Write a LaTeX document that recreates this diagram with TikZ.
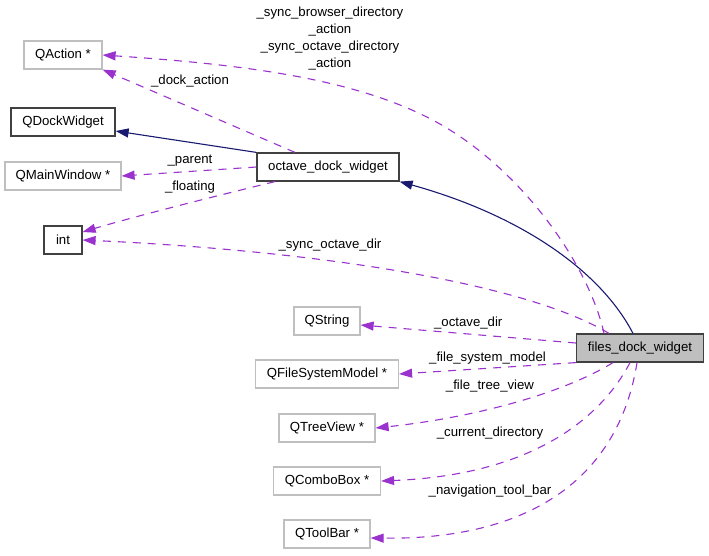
\documentclass[tikz,border=0pt]{standalone}
\usepackage{fontspec}
\setmainfont{Liberation Sans}
\usepackage{tikz}
\usetikzlibrary{arrows.meta,positioning}

\definecolor{dep}{HTML}{9A32CD}
\definecolor{inh}{HTML}{191970}
\definecolor{grayline}{HTML}{BFBFBF}
\definecolor{darkline}{HTML}{404040}

\begin{document}
\begin{tikzpicture}[x=1pt,y=-1pt,
  font=\fontsize{13.2}{15}\selectfont,
  cls/.style={draw=darkline,line width=1.2pt,rectangle,minimum height=28pt,inner sep=0pt},
  ext/.style={draw=grayline,line width=1.2pt,rectangle,minimum height=28pt,inner sep=0pt},
  use/.style={-{Triangle[length=13pt,width=9pt]},draw=dep,fill=none,line width=1.1pt,
    dash pattern=on 8pt off 7pt},
  isa/.style={-{Triangle[length=13pt,width=9pt]},draw=inh,line width=1.1pt},
  lbl/.style={inner sep=0pt,align=center},
]
  \useasboundingbox (0,0) rectangle (709,555);

  % classes on the left
  \node[ext,minimum width=78pt]  (qaction) at (63,55)  {QAction *};
  \node[cls,minimum width=104pt] (qdock)   at (63,122) {QDockWidget};
  \node[ext,minimum width=116pt] (qmain)   at (63,176) {QMainWindow *};
  \node[cls,minimum width=38pt]  (int)     at (63,240) {int};

  % middle column
  \node[cls,minimum width=142pt] (octave)  at (328,167) {octave\_dock\_widget};
  \foreach \name/\txt/\w/\y in {qstring/QString/66/321,qfsm/{QFileSystemModel *}/143/374,
      qtree/{QTreeView *}/96/428,qcombo/{QComboBox *}/107/481,qtool/{QToolBar *}/86/534} {
    \node[ext,minimum width=\w pt] (\name) at (327,\y) {\txt};
  }

  % the documented class
  \node[cls,fill=grayline,minimum width=127pt] (files) at (640,348) {files\_dock\_widget};

  % inheritance
  \draw[isa] (octave.north west) -- ([yshift=-9pt]qdock.east);
  \draw[isa] ([xshift=-7pt]files.north) .. controls (600,270) and (520,215) .. (octave.south east);

  % members of octave_dock_widget
  \draw[use] ([xshift=-33pt]octave.north) -- (qaction.south east);
  \node[lbl] (ldock) at (190,81) {\_dock\_action};
  \draw[use] (octave.west) -- (qmain.east);
  \node[lbl] (lparent) at (190,161) {\_parent};
  \draw[use] ([xshift=-53pt]octave.south) .. controls (220,195) and (140,215) .. ([yshift=8pt]int.east);
  \node[lbl] (lfloat) at (190,187) {\_floating};

  % members of files_dock_widget
  \draw[use] ([xshift=-36pt]files.north) .. controls (590,270) and (530,180) .. (450,130)
    .. controls (370,80) and (250,65) .. (qaction.east);
  \node[lbl] (lsync) at (330,39) {\_sync\_browser\_directory\\[2pt]\_action\\[2pt]\_sync\_octave\_directory\\[2pt]\_action};
  \draw[use] ([xshift=-31pt]files.north) .. controls (520,280) and (300,250) .. (int.east);
  \node[lbl] (lsyncdir) at (330,245) {\_sync\_octave\_dir};
  \draw[use] ([yshift=5pt]files.west) -- node[lbl,above=4pt]{\_octave\_dir} ([yshift=-4pt]qstring.east);
  \draw[use] (files.south west) -- node[lbl,above=4pt]{\_file\_system\_model} (qfsm.east);
  \draw[use] ([xshift=-27pt]files.south) .. controls (560,395) and (470,418) .. (qtree.east);
  \node[lbl] (ltree) at (490,386) {\_file\_tree\_view};
  \draw[use] ([xshift=-10pt]files.south) .. controls (600,420) and (530,475) .. (qcombo.east);
  \node[lbl] (lcombo) at (490,433) {\_current\_directory};
  \draw[use] ([xshift=-3pt]files.south) .. controls (620,470) and (540,540) .. ([yshift=-4pt]qtool.east);
  \node[lbl] (ltool) at (490,491) {\_navigation\_tool\_bar};
\end{tikzpicture}
\end{document}
